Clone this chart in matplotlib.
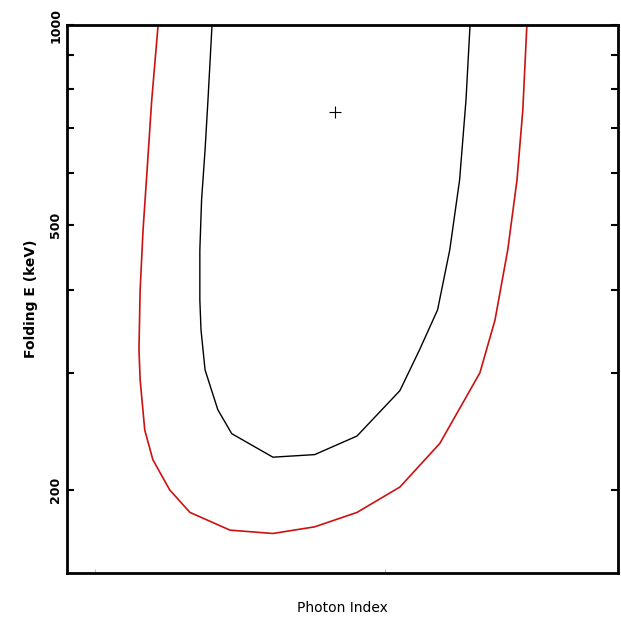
import matplotlib
matplotlib.use("Agg")
import matplotlib.pyplot as plt
from matplotlib.ticker import FixedLocator, NullFormatter

# inner (black) confidence contour: photon index, folding energy (keV)
inner_index = [1.702, 1.695, 1.690, 1.684, 1.681, 1.681, 1.683, 1.690, 1.712, 1.736,
               1.807, 1.879, 1.952, 2.026, 2.060, 2.091, 2.112, 2.129, 2.140, 2.147]
inner_efold = [1000, 771, 649, 546, 459, 386, 348, 303, 264, 243,
               224, 226, 241, 282, 325, 373, 459, 585, 771, 1000]

# outer (red) confidence contour
outer_index = [1.609, 1.598, 1.590, 1.583, 1.578, 1.576, 1.578, 1.586, 1.600, 1.629, 1.664,
               1.733, 1.807, 1.879, 1.952, 2.026, 2.095, 2.164, 2.190, 2.212, 2.228,
               2.238, 2.245]
outer_efold = [1000, 771, 605, 491, 399, 325, 293, 246, 222, 200, 185,
               174, 172, 176, 185, 202, 235, 300, 360, 459, 585,
               745, 1000]

# best fit
best_index = [1.914]
best_efold = [740]

y_major = [200, 500, 1000]
y_minor = [300, 400, 600, 700, 800, 900]
x_major = [1.5, 2.0]

fig = plt.figure(figsize=(6.21, 6.18), dpi=100)
ax = fig.add_axes([0.108, 0.0728, 0.887, 0.8867])

ax.plot(outer_index, outer_efold, color="#cc1111", lw=1.2)
ax.plot(inner_index, inner_efold, color="black", lw=1.0)
ax.plot(best_index, best_efold, marker="+", color="black", ms=8, mew=0.8, ls="none")

ax.set_yscale("log")
ax.set_ylim(150, 1000)
ax.set_xlim(1.452, 2.402)

ax.yaxis.set_major_locator(FixedLocator(y_major))
ax.yaxis.set_minor_locator(FixedLocator(y_minor))
ax.yaxis.set_minor_formatter(NullFormatter())
ax.set_yticklabels([str(v) for v in y_major], rotation=90, va="center",
                   fontsize=9, fontweight="bold")
ax.set_xticks(x_major)
ax.set_xticklabels([])

ax.tick_params(axis="y", which="both", direction="in", left=True, right=True,
               length=5, width=1.5)
ax.tick_params(axis="x", which="both", direction="in", bottom=True, top=False,
               length=3, width=0.8, color="#bbbbbb")

for s in ax.spines.values():
    s.set_linewidth(2)

ax.set_ylabel("Folding E (keV)", fontsize=10, fontweight="bold", labelpad=8)
ax.set_xlabel("Photon Index", fontsize=10, labelpad=17)

fig.savefig("out.png", dpi=100)
